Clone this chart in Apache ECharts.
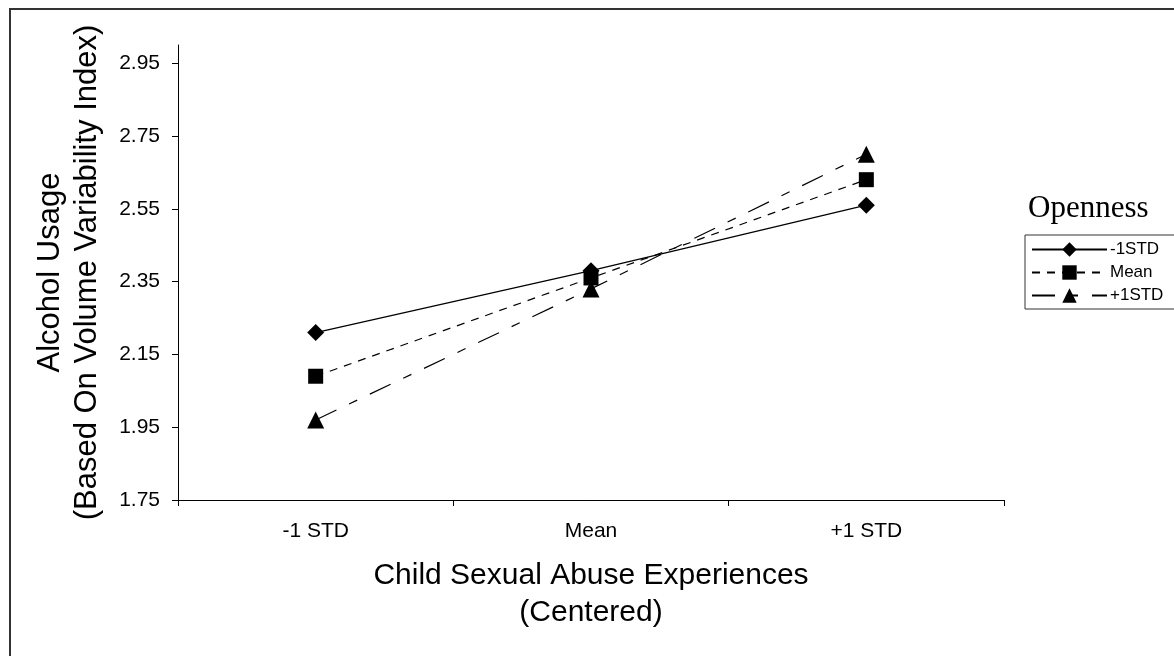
<!DOCTYPE html>
<html>
<head>
<meta charset="utf-8">
<script src="https://cdn.jsdelivr.net/npm/echarts@6/dist/echarts.min.js"></script>
<style>
html,body{margin:0;padding:0;background:#fff;}
#chart{width:1174px;height:656px;}
</style>
</head>
<body>
<div id="chart"></div>
<script>
const categories = ['-1 STD', 'Mean', '+1 STD'];
const seriesNames = ['-1STD', 'Mean', '+1STD'];
const lowOpenness = [2.21, 2.38, 2.56];
const meanOpenness = [2.09, 2.36, 2.63];
const highOpenness = [1.97, 2.33, 2.70];
const yTicks = [1.75, 1.95, 2.15, 2.35, 2.55, 2.75, 2.95];
const yTitle = 'Alcohol Usage\n(Based On Volume Variability Index)';
const xTitle = 'Child Sexual Abuse Experiences\n(Centered)';
const legendTitle = 'Openness';

const chart = echarts.init(document.getElementById('chart'), null, {renderer: 'canvas'});
const FONT = 'Liberation Sans, Arial, sans-serif';

function mk(name, data, symbol, size, dash) {
  return {
    name: name,
    type: 'line',
    data: data,
    symbol: symbol,
    symbolSize: size,
    showAllSymbol: true,
    itemStyle: {color: '#000'},
    lineStyle: {color: '#000', width: 1.2, type: dash},
    emphasis: {disabled: true},
    animation: false,
    z: 3
  };
}

chart.setOption({
  backgroundColor: '#fff',
  animation: false,
  title: {
    text: legendTitle,
    left: 1023, top: 188,
    textStyle: {fontFamily: 'Liberation Serif, Times New Roman, serif', fontSize: 31, fontWeight: 'normal', color: '#000'}
  },
  graphic: [{
    type: 'rect', silent: true,
    shape: {x: 10, y: 9, width: 1400, height: 900},
    style: {fill: 'none', stroke: '#333', lineWidth: 2}
  }],
  legend: {
    data: seriesNames,
    orient: 'vertical',
    left: 1025, top: 235,
    padding: [6, 60, 5, 6],
    itemGap: 6,
    itemWidth: 75,
    itemHeight: 18,
    borderColor: '#333',
    borderWidth: 1,
    textStyle: {fontFamily: FONT, fontSize: 17, color: '#000', padding: [0, 0, 0, -2]},
    selectedMode: false
  },
  grid: {left: 178, top: 45, width: 826, height: 455, containLabel: false},
  xAxis: {
    type: 'category',
    data: categories,
    boundaryGap: true,
    axisLine: {lineStyle: {color: '#000', width: 1}},
    axisTick: {show: true, length: 6, inside: false, alignWithLabel: false, lineStyle: {color: '#000'}},
    axisLabel: {fontFamily: FONT, fontSize: 21, color: '#000', margin: 21},
    splitLine: {show: false},
    name: xTitle,
    nameLocation: 'middle',
    nameGap: 57,
    nameTextStyle: {fontFamily: FONT, fontSize: 30, color: '#000', lineHeight: 37, verticalAlign: 'top'}
  },
  yAxis: {
    type: 'value',
    min: 1.75,
    max: 3.0,
    axisLine: {show: true, lineStyle: {color: '#000', width: 1}},
    axisTick: {show: true, length: 6, customValues: yTicks, lineStyle: {color: '#000'}},
    axisLabel: {fontFamily: FONT, fontSize: 21, color: '#000', margin: 18, customValues: yTicks,
      formatter: v => v.toFixed(2)},
    splitLine: {show: false},
    name: yTitle,
    nameLocation: 'middle',
    nameGap: 72,
    nameRotate: 90,
    nameTextStyle: {fontFamily: FONT, fontSize: 31, color: '#000', lineHeight: 37}
  },
  series: [
    mk(seriesNames[0], lowOpenness, 'diamond', 17, 'solid'),
    mk(seriesNames[1], meanOpenness, 'rect', 15, [8, 7]),
    mk(seriesNames[2], highOpenness, 'triangle', 17, [23, 14, 9, 14])
  ]
});
</script>
</body>
</html>
